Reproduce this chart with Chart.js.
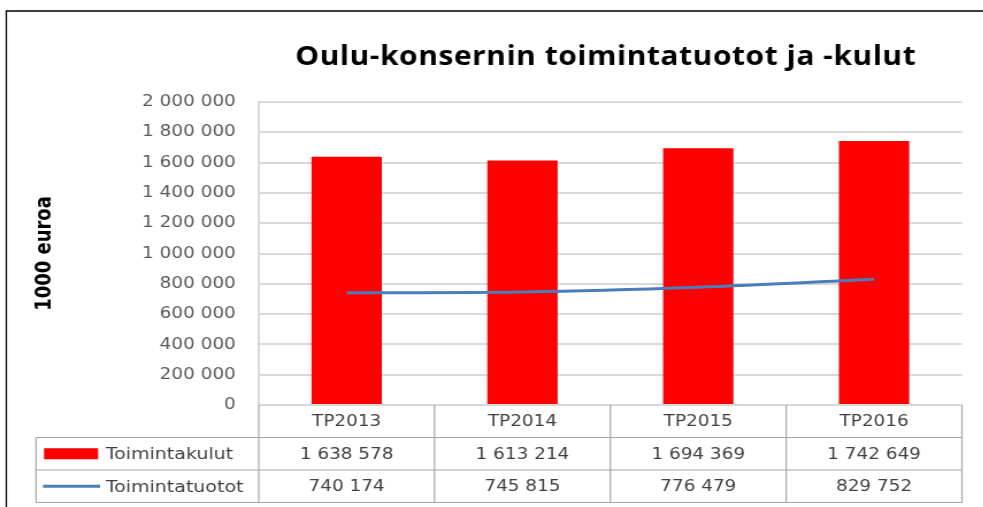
<!DOCTYPE html>
<html>
<head>
<meta charset="utf-8">
<script src="https://cdn.jsdelivr.net/npm/chart.js@4.4.1/dist/chart.umd.min.js"></script>
<style>
  html, body { margin: 0; padding: 0; background: #fff; overflow: hidden; }
  #wrap { width: 855px; height: 507px; transform: scaleX(1.15); transform-origin: 0 0; }
</style>
</head>
<body>
<div id="wrap"><canvas id="chart" width="855" height="507"></canvas></div>
<script>
const categories = ['TP2013', 'TP2014', 'TP2015', 'TP2016'];
const kulut = [1638578, 1613214, 1694369, 1742649];
const tuotot = [740174, 745815, 776479, 829752];
const seriesNames = ['Toimintakulut', 'Toimintatuotot'];
const chartTitle = 'Oulu-konsernin toimintatuotot ja -kulut';
const yLabel = '1000 euroa';
const yMax = 2000000;
const yStep = 200000;

const RED = '#ff0000';
const BLUE = '#4a7ebb';
const TEXT = '#404040';

function fmt(n) {
    return String(n).replace(/\B(?=(\d{3})+(?!\d))/g, ' ');
}

// frame, title and the data table under the plot
const extras = {
    id: 'extras',
    afterDraw(chart) {
        const ctx = chart.ctx;
        const a = chart.chartArea;
        const x = chart.scales.x;
        ctx.save();

        ctx.strokeStyle = '#000';
        ctx.lineWidth = 1.3;
        ctx.beginPath();
        ctx.moveTo(5.5, 507);
        ctx.lineTo(5.5, 11);
        ctx.lineTo(chart.width, 11);
        ctx.stroke();

        ctx.fillStyle = '#000';
        ctx.font = 'bold 26px "Open Sans"';
        ctx.letterSpacing = '0.5px';
        ctx.textAlign = 'center';
        ctx.textBaseline = 'middle';
        ctx.fillText(chartTitle, (a.left + a.right) / 2 - 4, 58);
        ctx.letterSpacing = '0px';

        const step = x.getPixelForValue(1) - x.getPixelForValue(0);
        const edges = categories.map((c, i) => x.getPixelForValue(i) - step / 2);
        edges.push(x.getPixelForValue(categories.length - 1) + step / 2);
        const rows = [a.bottom, a.bottom + 32.5, a.bottom + 65, a.bottom + 97.5];
        const tableLeft = 31.3;

        ctx.strokeStyle = '#a6a6a6';
        ctx.lineWidth = 1.2;
        ctx.beginPath();
        edges.forEach(e => { ctx.moveTo(e, rows[0]); ctx.lineTo(e, rows[3]); });
        ctx.moveTo(tableLeft, rows[1]); ctx.lineTo(tableLeft, rows[3]);
        for (let r = 1; r < 4; r++) {
            ctx.moveTo(tableLeft, rows[r]); ctx.lineTo(edges[edges.length - 1], rows[r]);
        }
        ctx.stroke();

        ctx.fillStyle = TEXT;
        ctx.font = '16px "DejaVu Sans"';
        categories.forEach((c, i) => {
            const cx = x.getPixelForValue(i);
            ctx.fillText(c, cx, (rows[0] + rows[1]) / 2 + 1);
            ctx.fillText(fmt(kulut[i]), cx, (rows[1] + rows[2]) / 2 + 1);
            ctx.fillText(fmt(tuotot[i]), cx, (rows[2] + rows[3]) / 2 + 1);
        });

        // legend keys inside the table
        const y1 = (rows[1] + rows[2]) / 2;
        const y2 = (rows[2] + rows[3]) / 2;
        ctx.fillStyle = RED;
        ctx.fillRect(38.3, y1 - 5.5, 47, 11);
        ctx.strokeStyle = BLUE;
        ctx.lineWidth = 3;
        ctx.beginPath();
        ctx.moveTo(37.4, y2); ctx.lineTo(87, y2);
        ctx.stroke();
        ctx.fillStyle = TEXT;
        ctx.textAlign = 'left';
        ctx.font = '16.5px "DejaVu Sans"';
        ctx.fillText(seriesNames[0], 92, y1 + 1);
        ctx.fillText(seriesNames[1], 92, y2 + 1);

        ctx.restore();
    }
};

new Chart(document.getElementById('chart'), {
    type: 'bar',
    data: {
        labels: categories,
        datasets: [
            {
                type: 'line',
                label: seriesNames[1],
                data: tuotot,
                borderColor: BLUE,
                borderWidth: 3,
                pointRadius: 0,
                cubicInterpolationMode: 'monotone',
                order: 0
            },
            {
                label: seriesNames[0],
                data: kulut,
                backgroundColor: RED,
                barPercentage: 0.4,
                categoryPercentage: 1,
                order: 1
            }
        ]
    },
    options: {
        responsive: false,
        animation: false,
        layout: { padding: { left: 5, right: 18.5, top: 102, bottom: 102 } },
        plugins: {
            legend: { display: false },
            tooltip: { enabled: false }
        },
        scales: {
            x: {
                display: false,
                offset: true
            },
            y: {
                min: 0,
                max: yMax,
                afterFit(scale) { scale.width = 220; },
                ticks: {
                    stepSize: yStep,
                    autoSkip: false,
                    padding: 20,
                    color: '#595959',
                    font: { family: 'DejaVu Sans', size: 16 },
                    callback: v => fmt(v)
                },
                grid: { color: '#d9d9d9', lineWidth: 2, drawTicks: false },
                border: { color: '#d9d9d9', width: 2 },
                title: {
                    display: true,
                    text: yLabel,
                    color: '#000',
                    padding: { top: 22, bottom: 0 },
                    font: { family: 'DejaVu Sans Condensed', size: 20, weight: 'bold' }
                }
            }
        }
    },
    plugins: [extras]
});
</script>
</body>
</html>
